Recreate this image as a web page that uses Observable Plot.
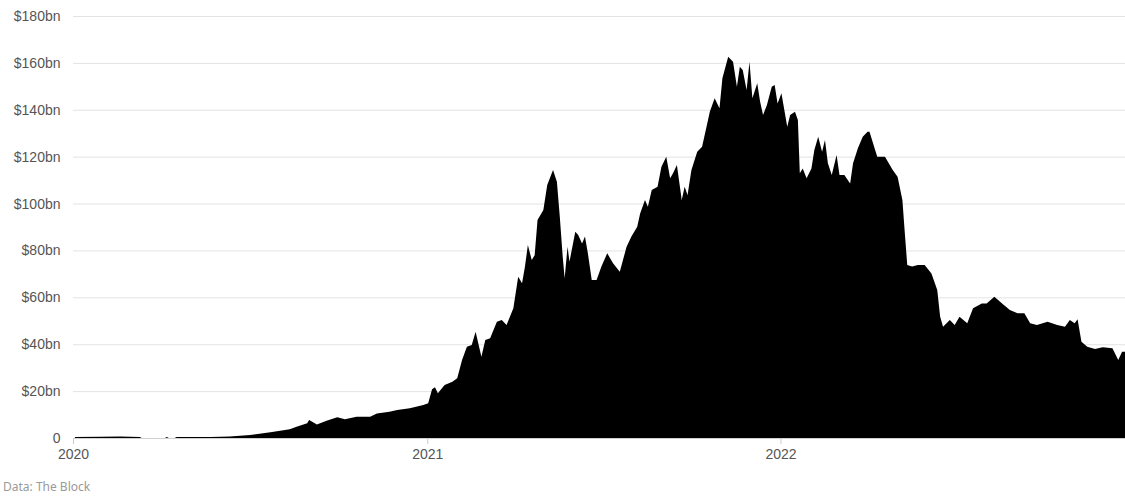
<!DOCTYPE html>
<html>
<head>
<meta charset="utf-8">
<script src="https://cdn.jsdelivr.net/npm/d3@7"></script>
<script src="https://cdn.jsdelivr.net/npm/@observablehq/plot@0.6"></script>
<style>
  html, body { margin: 0; padding: 0; background: #fff; }
  #chart svg { display: block; }
  .caption { font-family: "Noto Sans", "Open Sans", sans-serif; font-size: 12px; color: #9a9a9a; line-height: 14px; padding: 8px 0 0 3px; }
</style>
</head>
<body>
<div id="chart"></div>
<div class="caption">Data: The Block</div>
<script>
// Series start date; day offsets below are counted from it
const startDate = "2020-01-01";

// Day offsets from startDate
const days = [
  2, 28, 49, 69, 71, 95, 97, 99, 105, 107, 142, 162,
  183, 204, 224, 231, 242, 244, 252, 262, 273, 281, 293, 307, 314, 327, 335, 348, 362,
  367, 371, 374, 377, 384, 392, 397, 402, 407, 412, 416, 422, 426, 431, 438, 443, 448,
  455, 460, 464, 467, 470, 474, 477, 480, 486, 490, 496, 500, 503, 506, 508, 511,
  513, 519, 522, 526, 529, 532, 536, 541, 546, 552, 558, 565, 572, 577, 583, 586,
  591, 594, 598, 604, 608, 613, 617, 620, 624, 629, 632, 635, 639, 645, 650, 655,
  658, 663, 668, 671, 677, 682, 686, 689, 692, 696, 699, 702, 707, 710, 713, 717,
  722, 725, 728, 732, 738, 741, 746, 749, 751, 754, 758, 763, 766, 770, 774, 777,
  780, 784, 789, 792, 797, 803, 806, 811, 816, 821, 823, 831, 839, 847, 852, 857,
  859, 862, 867, 873, 880, 887, 893, 896, 899, 906, 911, 916, 924, 930, 939, 944,
  952, 960, 968, 976, 983, 989, 996, 1007, 1017, 1025, 1030, 1035, 1038, 1042, 1048,
  1056, 1064, 1074, 1080, 1084, 1087
];

// Total value locked, $bn
const tvl = [
  0.4, 0.5, 0.6, 0.4, 0, 0, 0.4, 0, 0, 0.4, 0.4, 0.6,
  1.3, 2.4, 3.7, 4.8, 6.3, 7.7, 5.8, 7.4, 8.8, 8.0, 9.1, 9.1, 10.5, 11.2, 11.9, 12.7, 14.1,
  14.8, 20.8, 21.6, 19.1, 22.6, 24.0, 25.5, 33.3, 38.9, 39.7, 45.3, 34.7, 41.8, 42.5, 49.6, 50.3, 48.2,
  55.3, 68.8, 66.0, 73.1, 82.3, 75.9, 78.0, 93.0, 97.2, 107.9, 114.3, 109.3, 94.4, 77.3, 68.1, 81.6,
  75.2, 88.0, 86.6, 83.0, 85.9, 78.8, 67.4, 67.4, 73.1, 78.8, 74.5, 70.9, 81.6, 85.9, 90.1, 95.8,
  101.5, 98.6, 105.8, 107.2, 115.7, 120.0, 110.8, 112.9, 116.4, 101.5, 107.2, 103.6, 114.3, 122.1, 124.2, 133.5,
  139.2, 144.9, 140.6, 153.4, 162.6, 160.5, 149.8, 158.4, 157.0, 148.4, 160.5, 144.9, 151.3, 143.4, 137.8, 142.0,
  149.8, 150.6, 142.7, 147.0, 132.8, 137.8, 139.2, 135.6, 112.9, 115.0, 110.8, 115.0, 122.8, 128.5, 122.1, 127.1,
  117.2, 112.2, 120.7, 112.2, 112.2, 108.6, 117.2, 123.6, 128.5, 130.6, 130.6, 120.0, 120.0, 114.3, 111.4, 101.5,
  90.1, 73.8, 73.1, 73.8, 73.8, 70.2, 63.1, 51.7, 47.5, 50.3, 48.2, 51.7, 48.9, 55.3, 57.4, 57.4,
  60.3, 57.4, 54.6, 53.2, 53.2, 48.9, 48.2, 49.6, 48.2, 47.5, 50.3, 48.9, 50.6, 41.1, 38.9,
  38.0, 38.7, 38.3, 33.3, 36.8, 36.8
];

// Axis ticks
const yTicks = [0, 20, 40, 60, 80, 100, 120, 140, 160, 180];
const xTickLabels = ["2020", "2021", "2022"];

const start = new Date(startDate + "T00:00:00Z");
const data = days.map((d, i) => ({ date: d3.utcDay.offset(start, d), value: tvl[i] }));
const xTicks = xTickLabels.map(y => new Date(y + "-01-01T00:00:00Z"));

const chart = Plot.plot({
  width: 1125,
  height: 472,
  marginLeft: 73,
  marginRight: 0,
  marginTop: 16,
  marginBottom: 34,
  style: { fontFamily: "'Liberation Sans', Arial, sans-serif", fontSize: "14px", color: "#555", background: "#fff" },
  x: {
    type: "utc",
    domain: [start, d3.utcDay.offset(start, 1087)],
    label: null
  },
  y: {
    domain: [0, 180],
    label: null
  },
  marks: [
    Plot.gridY(yTicks.filter(t => t > 0), { stroke: "#e3e3e3", strokeOpacity: 1 }),
    Plot.areaY(data, { x: "date", y: "value", fill: "#000", curve: "linear" }),
    Plot.ruleY([0], { stroke: "#d0d0d0" }),
    Plot.axisX({ ticks: xTicks, tickFormat: d3.utcFormat("%Y"), tickSize: 6, tickPadding: 5, stroke: "#ccc", color: "#555", label: null }),
    Plot.axisY({ ticks: yTicks, tickFormat: d => d === 0 ? "0" : `$${d}bn`, tickSize: 0, tickPadding: 13, label: null })
  ]
});
document.getElementById("chart").appendChild(chart);
</script>
</body>
</html>
